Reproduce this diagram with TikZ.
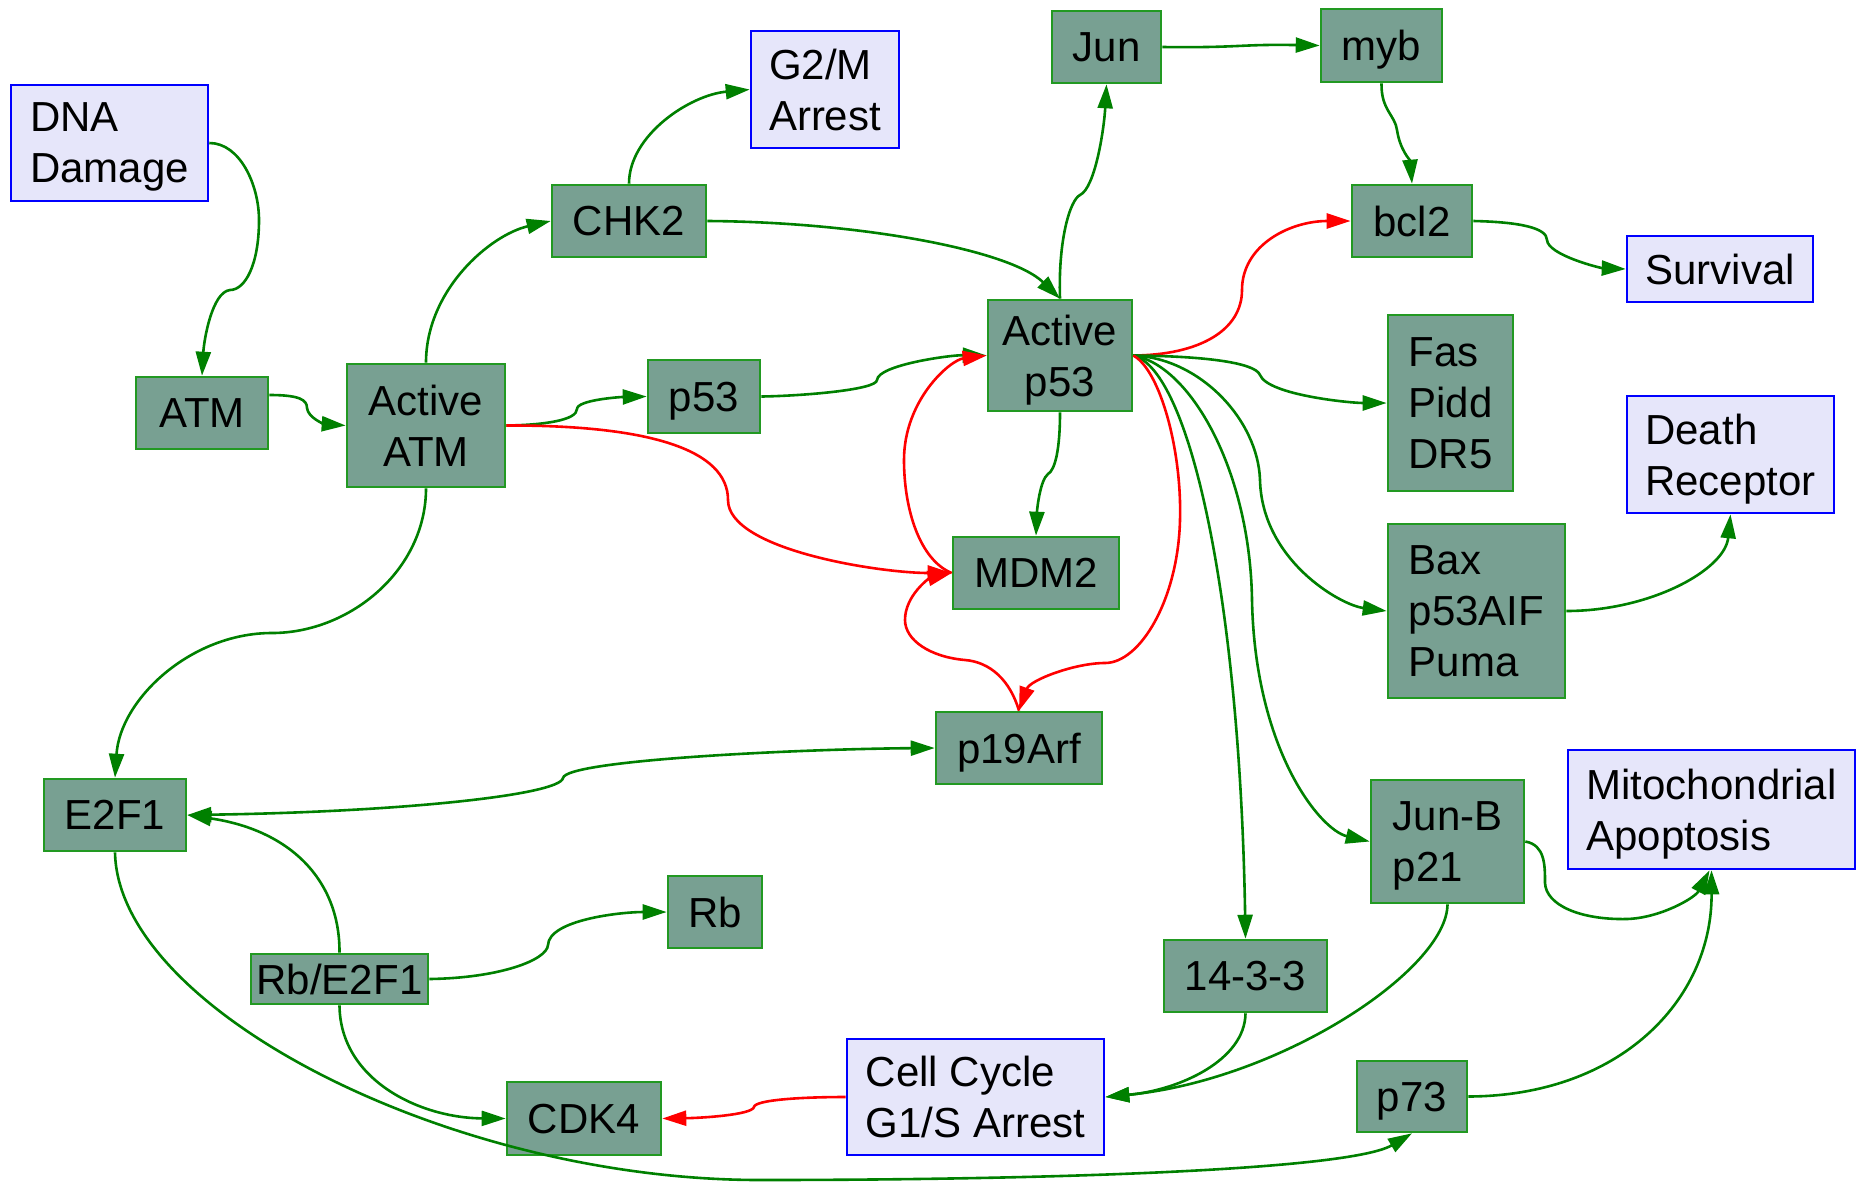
\documentclass[tikz,border=0pt]{standalone}
\usepackage{fontspec}
\setmainfont{Liberation Sans}
\usetikzlibrary{arrows.meta}
\definecolor{gfill}{RGB}{120,160,146}
\definecolor{gline}{RGB}{34,153,34}
\definecolor{ledge}{RGB}{0,128,0}
\definecolor{lav}{RGB}{230,230,250}
\definecolor{bline}{RGB}{0,0,255}
\tikzset{
  basebox/.style={rectangle, inner sep=0pt, line width=2.6pt, font=\fontsize{42}{51}\selectfont, text=black, text depth=0pt},
  gbox/.style={basebox, draw=gline, fill=gfill},
  lbox/.style={basebox, draw=bline, fill=lav},
  tip/.style={-{Triangle[length=24pt,width=15pt]}},
  gedge/.style={draw=ledge, line width=2.6pt, tip},
  redge/.style={draw=red, line width=2.6pt, tip},
}
\begin{document}
\begin{tikzpicture}[x=1pt,y=-1pt]
\useasboundingbox (0,0) rectangle (1858,1181);
% nodes
\node[lbox, minimum width=197pt, minimum height=116pt, align=left] (dna) at (109.5,143) {DNA\\Damage};
\node[lbox, minimum width=148pt, minimum height=117pt, align=left] (g2m) at (825,89.5) {G2/M\\Arrest};
\node[gbox, minimum width=109pt, minimum height=72pt] (jun) at (1106.5,47) {Jun};
\node[gbox, minimum width=121pt, minimum height=73pt] (myb) at (1381.5,45.5) {myb};
\node[gbox, minimum width=154pt, minimum height=72pt] (chk2) at (629,221) {CHK2};
\node[gbox, minimum width=120pt, minimum height=72pt] (bcl2) at (1412,221) {bcl2};
\node[lbox, minimum width=186pt, minimum height=66pt] (survival) at (1720,269) {Survival};
\node[gbox, minimum width=132pt, minimum height=72pt] (atm) at (202,413) {ATM};
\node[gbox, minimum width=158pt, minimum height=123pt, align=center] (aatm) at (426,425.5) {Active\\ATM};
\node[gbox, minimum width=112pt, minimum height=73pt] (p53) at (704,396.5) {p53};
\node[gbox, minimum width=144pt, minimum height=111pt, align=center] (ap53) at (1060,355.5) {Active\\p53};
\node[gbox, minimum width=125pt, minimum height=176pt, align=left] (fas) at (1450.5,403) {Fas\\Pidd\\DR5};
\node[lbox, minimum width=207pt, minimum height=117pt, align=left] (death) at (1730.5,454.5) {Death\\Receptor};
\node[gbox, minimum width=166pt, minimum height=72pt] (mdm2) at (1036,573) {MDM2};
\node[gbox, minimum width=177pt, minimum height=174pt, align=left] (bax) at (1476.5,611) {Bax\\p53AIF\\Puma};
\node[gbox, minimum width=166pt, minimum height=72pt] (p19) at (1019,748) {p19Arf};
\node[gbox, minimum width=142pt, minimum height=72pt] (e2f1) at (115,815) {E2F1};
\node[gbox, minimum width=153pt, minimum height=123pt, align=left] (junb) at (1447.5,841.5) {Jun-B\\p21};
\node[lbox, minimum width=287pt, minimum height=119pt, align=left] (mito) at (1711.5,809.5) {Mitochondrial\\Apoptosis};
\node[gbox, minimum width=94pt, minimum height=72pt] (rb) at (715,912) {Rb};
\node[gbox, minimum width=177pt, minimum height=50pt] (rbe2f1) at (339.5,979) {Rb/E2F1};
\node[gbox, minimum width=163pt, minimum height=72pt] (f1433) at (1245.5,976) {14-3-3};
\node[lbox, minimum width=257pt, minimum height=116pt, align=left] (cc) at (975.5,1097) {Cell Cycle\\G1/S Arrest};
\node[gbox, minimum width=154pt, minimum height=73pt] (cdk4) at (584,1118.5) {CDK4};
\node[gbox, minimum width=110pt, minimum height=71pt] (p73) at (1412,1096.5) {p73};
% edges
\draw[gedge] (dna.east) .. controls (240,143) and (259,185) .. (259,220) .. controls (259,265) and (245,290) .. (230,290) .. controls (212,292) and (204,340) .. (atm.north);
\draw[gedge] ([yshift=18pt]atm.east) .. controls (300,395) and (307,400) .. (307,408) .. controls (308,418) and (325,424) .. (aatm.west);
\draw[gedge] (aatm.north) .. controls (426,290) and (490,235) .. (chk2.west);
\draw[gedge] (chk2.north) .. controls (629,135) and (690,95) .. (g2m.west);
\draw[gedge] (chk2.east) .. controls (860,222) and (1010,250) .. (ap53.north);
\draw[gedge] (aatm.east) .. controls (545,425) and (577,420) .. (577,409) .. controls (577,400) and (620,397) .. (p53.west);
\draw[redge] (aatm.east) .. controls (650,425) and (728,450) .. (728,500) .. controls (728,550) and (880,573) .. (mdm2.west);
\draw[gedge] (aatm.south) .. controls (426,570) and (350,633) .. (272,633) .. controls (190,633) and (120,700) .. (e2f1.north);
\draw[gedge] (p53.east) .. controls (800,396) and (877,390) .. (877,380) .. controls (878,365) and (950,355) .. (ap53.west);
\draw[gedge] (ap53.north) .. controls (1058,240) and (1070,200) .. (1080,195) .. controls (1095,188) and (1104,130) .. (jun.south);
\draw[gedge] (jun.east) .. controls (1240,48) and (1240,44) .. (myb.west);
\draw[gedge] (myb.south) .. controls (1381,110) and (1395,115) .. (1397,130) .. controls (1400,150) and (1410,160) .. (bcl2.north);
\draw[redge] (ap53.east) .. controls (1200,355) and (1242,330) .. (1242,290) .. controls (1242,245) and (1290,221) .. (bcl2.west);
\draw[gedge] (bcl2.east) .. controls (1520,222) and (1547,228) .. (1547,240) .. controls (1548,255) and (1600,268) .. (survival.west);
\draw[gedge] (ap53.east) .. controls (1200,356) and (1255,362) .. (1260,375) .. controls (1268,395) and (1350,403) .. (fas.west);
\draw[gedge] (ap53.east) .. controls (1200,358) and (1258,420) .. (1260,480) .. controls (1262,560) and (1340,605) .. (bax.west);
\draw[gedge] (ap53.east) .. controls (1190,365) and (1250,470) .. (1252,600) .. controls (1255,750) and (1320,830) .. (junb.west);
\draw[gedge] (ap53.east) .. controls (1190,370) and (1240,600) .. (f1433.north);
\draw[redge] (ap53.east) .. controls (1160,370) and (1182,450) .. (1180,520) .. controls (1178,600) and (1140,663) .. (1105,663) .. controls (1075,663) and (1030,680) .. (p19.north);
\draw[gedge] (ap53.south) .. controls (1060,450) and (1055,470) .. (1048,474) .. controls (1040,480) and (1037,510) .. (mdm2.north);
\draw[redge] (mdm2.west) .. controls (920,560) and (904,510) .. (904,460) .. controls (904,400) and (950,360) .. (ap53.west);
\draw[redge] (p19.north) .. controls (1010,680) and (990,662) .. (965,660) .. controls (930,657) and (905,640) .. (905,620) .. controls (905,595) and (930,578) .. (mdm2.west);
\draw[gedge, {Triangle[length=24pt,width=15pt]}-{Triangle[length=24pt,width=15pt]}] (e2f1.east) .. controls (400,812) and (560,795) .. (563,778) .. controls (566,760) and (800,749) .. (p19.west);
\draw[gedge] (rbe2f1.north) .. controls (340,880) and (290,830) .. (e2f1.east);
\draw[gedge] (rbe2f1.east) .. controls (500,978) and (547,960) .. (548,945) .. controls (549,920) and (620,912) .. (rb.west);
\draw[gedge] (rbe2f1.south) .. controls (340,1080) and (420,1118) .. (cdk4.west);
\draw[gedge] (e2f1.south) .. controls (118,1010) and (450,1180) .. (760,1180) .. controls (1050,1180) and (1350,1170) .. (p73.south);
\draw[redge] (cc.west) .. controls (800,1097) and (755,1100) .. (754,1107) .. controls (752,1115) and (700,1118) .. (cdk4.east);
\draw[gedge] (f1433.south) .. controls (1245,1060) and (1180,1090) .. (cc.east);
\draw[gedge] (junb.south) .. controls (1447,970) and (1280,1080) .. (cc.east);
\draw[gedge] (junb.east) .. controls (1545,845) and (1545,865) .. (1545,883) .. controls (1546,905) and (1580,920) .. (1627,919) .. controls (1660,918) and (1695,898) .. ([xshift=-2pt]mito.south);
\draw[gedge] (p73.east) .. controls (1620,1096) and (1712,1000) .. (mito.south);
\draw[gedge] (bax.east) .. controls (1650,611) and (1725,570) .. (death.south);
\end{tikzpicture}
\end{document}
